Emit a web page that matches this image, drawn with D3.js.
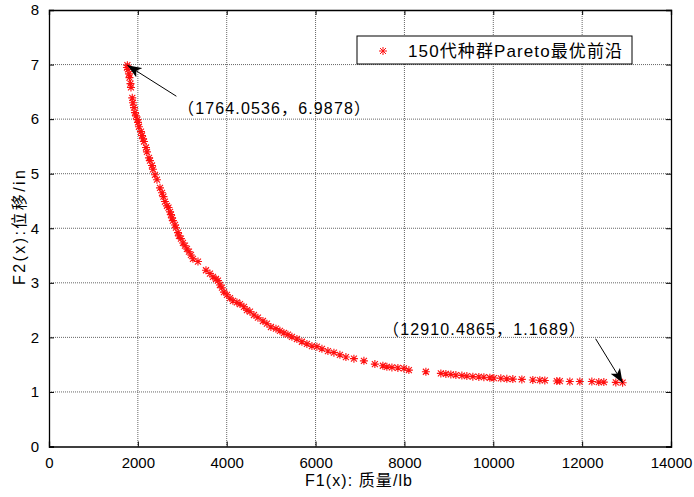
<!DOCTYPE html>
<html>
<head>
<meta charset="utf-8">
<script src="https://d3js.org/d3.v7.min.js"></script>
<style>
  body { margin: 0; background: #fff; }
  svg { display: block; font-family: "Liberation Sans", Arial, "Noto Sans CJK SC", sans-serif; }
</style>
</head>
<body>
<svg width="694" height="497"></svg>
<script>
// F1(x) mass (lb) and F2(x) displacement (in) of the Pareto front
var f1 = [1764.0536, 1755, 1778, 1800, 1811, 1834, 1845, 1874, 1890, 1913, 1935, 1958, 1991, 2003, 2025,
  2070, 2093, 2115, 2138, 2183, 2205, 2250, 2273, 2318, 2340, 2385, 2430, 2498, 2543, 2576,
  2610, 2655, 2689, 2723, 2745, 2768, 2790, 2835, 2858, 2903, 2925, 2970, 3015, 3060, 3105,
  3150, 3195, 3240, 3353, 3533, 3623, 3690, 3758, 3803, 3848, 3893, 3938, 4005, 4073, 4140,
  4230, 4298, 4388, 4455, 4523, 4613, 4703, 4815, 4905, 4995, 5108, 5198, 5288, 5378, 5468,
  5580, 5693, 5805, 5918, 6030, 6143, 6278, 6413, 6548, 6683, 6863, 7088, 7335, 7515, 7605,
  7718, 7853, 7988, 8100, 8483, 8820, 8933, 9045, 9158, 9293, 9405, 9540, 9675, 9788, 9923,
  10013, 10170, 10305, 10440, 10643, 10890, 11048, 11160, 11430, 11498, 11723, 11948, 12218, 12375, 12488,
  12758, 12910.4865];
var f2 = [6.9878, 6.945, 6.91, 6.83, 6.76, 6.65, 6.58, 6.39, 6.30, 6.21, 6.12, 6.06, 5.99, 5.94, 5.86,
  5.77, 5.70, 5.64, 5.59, 5.48, 5.40, 5.29, 5.24, 5.15, 5.08, 4.98, 4.89, 4.74, 4.65, 4.58,
  4.49, 4.41, 4.38, 4.30, 4.25, 4.19, 4.14, 4.06, 4.01, 3.92, 3.86, 3.81, 3.73, 3.68, 3.62,
  3.57, 3.51, 3.44, 3.39, 3.23, 3.17, 3.11, 3.07, 3.04, 2.96, 2.91, 2.83, 2.78, 2.72, 2.67,
  2.64, 2.61, 2.56, 2.50, 2.47, 2.41, 2.36, 2.30, 2.25, 2.19, 2.16, 2.12, 2.08, 2.05, 2.01,
  1.97, 1.92, 1.88, 1.84, 1.83, 1.79, 1.75, 1.72, 1.68, 1.64, 1.61, 1.57, 1.51, 1.48, 1.46,
  1.45, 1.44, 1.43, 1.40, 1.37, 1.34, 1.33, 1.32, 1.31, 1.30, 1.29, 1.28, 1.275, 1.27, 1.26,
  1.255, 1.25, 1.24, 1.235, 1.23, 1.22, 1.215, 1.21, 1.20, 1.20, 1.19, 1.19, 1.19, 1.18, 1.18,
  1.175, 1.1689];
var xTicks = [0, 2000, 4000, 6000, 8000, 10000, 12000, 14000];
var yTicks = [0, 1, 2, 3, 4, 5, 6, 7, 8];
var legendLabel = "150代种群Pareto最优前沿";
var notes = [
  {x: 1764.0536, y: 6.9878, text: "（1764.0536，6.9878）"},
  {x: 12910.4865, y: 1.1689, text: "（12910.4865，1.1689）"}
];

var svg = d3.select("svg");
var pLeft = 49, pRight = 671, pTop = 10, pBottom = 446.5;

var x = d3.scaleLinear().domain([0, 14000]).range([pLeft, pRight]);
var y = d3.scaleLinear().domain([0, 8]).range([pBottom, pTop]);

// grid
svg.append("g").selectAll("line").data(xTicks.slice(1, -1)).enter().append("line")
  .attr("x1", d => x(d)).attr("x2", d => x(d)).attr("y1", pTop).attr("y2", pBottom)
  .attr("stroke", "#666").attr("stroke-dasharray", "1,1");
svg.append("g").selectAll("line").data(yTicks.slice(1, -1)).enter().append("line")
  .attr("y1", d => y(d)).attr("y2", d => y(d)).attr("x1", pLeft).attr("x2", pRight)
  .attr("stroke", "#666").attr("stroke-dasharray", "1,1");

// axes, ticks point inward like MATLAB
svg.append("g").attr("transform", "translate(0," + pBottom + ")")
  .call(d3.axisBottom(x).tickValues(xTicks).tickSize(-5).tickPadding(11).tickFormat(d3.format("d")));
svg.append("g").attr("transform", "translate(0," + pTop + ")")
  .call(d3.axisTop(x).tickValues(xTicks).tickSize(-5).tickFormat(""));
svg.append("g").attr("transform", "translate(" + pLeft + ",0)")
  .call(d3.axisLeft(y).tickValues(yTicks).tickSize(-5).tickPadding(10).tickFormat(d3.format("d")));
svg.append("g").attr("transform", "translate(" + pRight + ",0)")
  .call(d3.axisRight(y).tickValues(yTicks).tickSize(-5).tickFormat(""));

svg.selectAll(".domain").attr("stroke", "#000").attr("stroke-width", 1.3);
svg.selectAll(".tick line").attr("stroke", "#000");
svg.selectAll(".tick text").attr("font-size", 15).attr("fill", "#000")
  .attr("font-family", "Liberation Sans, Arial, sans-serif");

// asterisk marker
var star = "M-4,0H4M0,-4V4M-3,-3L3,3M-3,3L3,-3";
svg.append("g").selectAll("path").data(f1).enter().append("path")
  .attr("transform", (d, i) => "translate(" + x(d) + "," + y(f2[i]) + ")")
  .attr("d", star).attr("stroke", "#ff1010").attr("stroke-width", 1.1).attr("fill", "none");

// legend
var lg = svg.append("g");
lg.append("rect").attr("x", 357).attr("y", 36).attr("width", 275).attr("height", 28)
  .attr("fill", "#fff").attr("stroke", "#000");
lg.append("path").attr("transform", "translate(383,51)").attr("d", star)
  .attr("stroke", "#ff1010").attr("fill", "none");
lg.append("text").attr("x", 408).attr("y", 57).attr("font-size", 17)
  .attr("textLength", 214).attr("lengthAdjust", "spacing").text(legendLabel);

// annotations with arrows
var defs = svg.append("defs");
defs.append("marker").attr("id", "head").attr("viewBox", "0 -6 14 12")
  .attr("refX", 14).attr("refY", 0).attr("markerWidth", 14).attr("markerHeight", 12)
  .attr("markerUnits", "userSpaceOnUse").attr("orient", "auto")
  .append("path").attr("d", "M0,-5.5L14,0L0,5.5L3.5,0Z").attr("fill", "#000");

var tails = [[49, 31], [-27, -44]];
var textPos = [[178, 114], [383, 335]];
var textLen = [192, 202];
notes.forEach(function(n, i) {
  var tx = x(n.x), ty = y(n.y);
  svg.append("line").attr("x1", tx + tails[i][0]).attr("y1", ty + tails[i][1])
    .attr("x2", tx).attr("y2", ty).attr("stroke", "#000").attr("stroke-width", 1)
    .attr("marker-end", "url(#head)");
  svg.append("text").attr("x", textPos[i][0]).attr("y", textPos[i][1])
    .attr("font-size", 16).attr("textLength", textLen[i]).attr("lengthAdjust", "spacing")
    .text(n.text);
});

// axis labels
svg.append("text").attr("x", 305).attr("y", 486)
  .attr("font-size", 16).attr("textLength", 107).attr("lengthAdjust", "spacing")
  .text("F1(x): 质量/lb");
svg.append("text").attr("transform", "translate(25,285) rotate(-90)")
  .attr("font-size", 16).attr("textLength", 115).attr("lengthAdjust", "spacing")
  .text("F2(x):位移/in");
</script>
</body>
</html>
